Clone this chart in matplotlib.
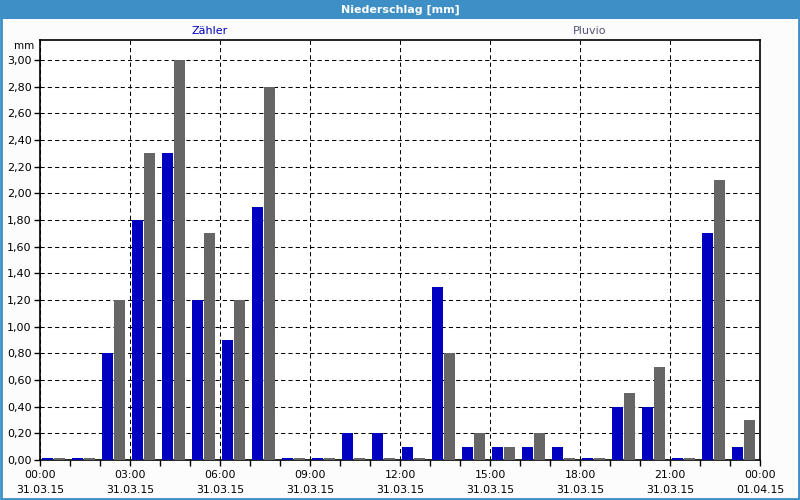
import numpy as np
import matplotlib.pyplot as plt
from matplotlib.patches import Rectangle

hours = np.arange(24)
zaehler = [0.0, 0.0, 0.8, 1.8, 2.3, 1.2, 0.9, 1.9, 0.0, 0.0, 0.2, 0.2,
           0.1, 1.3, 0.1, 0.1, 0.1, 0.1, 0.0, 0.4, 0.4, 0.0, 1.7, 0.1]
pluvio = [0.0, 0.0, 1.2, 2.3, 3.0, 1.7, 1.2, 2.8, 0.0, 0.0, 0.0, 0.0,
          0.0, 0.8, 0.2, 0.1, 0.2, 0.0, 0.0, 0.5, 0.7, 0.0, 2.1, 0.3]
tick_times = ["00:00", "03:00", "06:00", "09:00", "12:00", "15:00", "18:00", "21:00", "00:00"]
tick_dates = ["31.03.15"] * 8 + ["01.04.15"]
y_ticks = np.arange(0, 3.01, 0.2)

blue = "#0000c0"
grey = "#666666"
frame = "#3d8fc6"

plt.rcParams["hatch.color"] = "#3a3a7a"
plt.rcParams["hatch.linewidth"] = 0.8

fig = plt.figure(figsize=(8, 5), dpi=100, facecolor="#fcfcfc")

# title bar and border
fig.patches.append(Rectangle((0, 1 - 19 / 500), 1, 19 / 500, transform=fig.transFigure,
                             facecolor=frame, edgecolor="none", zorder=0))
fig.patches.append(Rectangle((0.001, 0.003), 0.998, 0.995, transform=fig.transFigure,
                             facecolor="none", edgecolor=frame, lw=2, zorder=1))
fig.text(0.5, 1 - 10 / 500, "Niederschlag [mm]", color="white", fontsize=8,
         fontweight="bold", ha="center", va="center")
fig.text(210 / 800, 1 - 31 / 500, "Zähler", color=blue, fontsize=8, ha="center", va="center")
fig.text(590 / 800, 1 - 31 / 500, "Pluvio", color="#555577", fontsize=8, ha="center", va="center")
fig.text(34 / 800, 1 - 46 / 500, "mm", color="black", fontsize=7.5, ha="right", va="center")

ax = fig.add_axes([40 / 800, 40 / 500, 720 / 800, 420 / 500])
ax.set_facecolor("white")

w = 0.37
zb = np.maximum(zaehler, 0.012)
pb = np.maximum(pluvio, 0.012)
ax.bar(hours + 0.24, zb, width=w, color=blue, zorder=3)
ax.bar(hours + 0.65, pb, width=w, color=grey, hatch="..", edgecolor=grey, linewidth=0, zorder=3)

ax.set_xlim(0, 24)
ax.set_ylim(0, 3.15)
ax.set_yticks(y_ticks)
ax.set_yticklabels([f"{v:.2f}".replace(".", ",") for v in y_ticks], fontsize=8)
ax.set_xticks(np.arange(0, 25, 3))
ax.set_xticklabels([f"{t}\n{d}" for t, d in zip(tick_times, tick_dates)], fontsize=7.8,
                   linespacing=1.6)
ax.set_xticks(hours, minor=True)
ax.tick_params(axis="x", which="both", direction="out", length=4, width=1, pad=3)
ax.tick_params(axis="y", direction="out", length=4, width=1, pad=2)

ax.grid(True, which="major", color="black", linestyle=(0, (4, 3)), linewidth=0.75, zorder=1)
ax.set_axisbelow(True)
for s in ax.spines.values():
    s.set_linewidth(1.2)

fig.savefig("out.png", dpi=100, facecolor=fig.get_facecolor())
